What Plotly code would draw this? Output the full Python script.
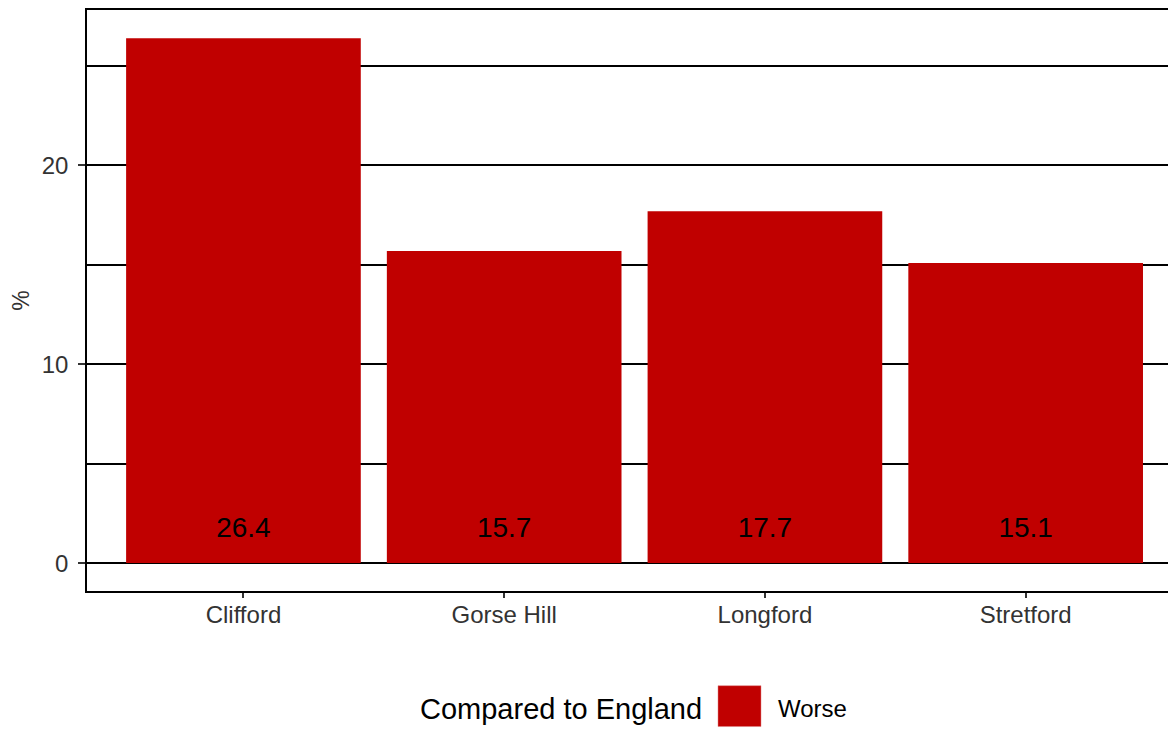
import plotly.graph_objects as go

categories = ["Clifford", "Gorse Hill", "Longford", "Stretford"]
values = [26.4, 15.7, 17.7, 15.1]
labels = ["26.4", "15.7", "17.7", "15.1"]
label_y = [1.65, 1.65, 1.65, 1.65]
y_tickvals = [0, 10, 20]
y_ticktext = ["0", "10", "20"]
legend_title = "Compared to England"
legend_label = "Worse"

BAR = "#C00000"
FONT = "Liberation Sans, Arial, sans-serif"
AXIS_TXT = "#333333"

# the html page body has an 8px margin; figure coordinates are page - 8
OFF = 8
W, H = 1176, 729 - OFF
ML, MR, MT, MB = 87 - OFF, 0, 8 - OFF, 729 - 591
PW = W - ML - MR
PH = H - MT - MB
PANEL_RIGHT_PAGE = OFF + W - MR

def px_x(px):
    return (px - OFF - ML) / PW

def px_y(py):
    return (H - MB - (py - OFF)) / PH

fig = go.Figure()
fig.add_trace(go.Bar(
    x=categories, y=values, width=0.9,
    marker=dict(color=BAR, line=dict(width=0)),
    showlegend=False, hoverinfo="x+y",
))
fig.add_trace(go.Scatter(
    x=categories, y=label_y, mode="text", text=labels,
    textposition="middle center",
    textfont=dict(family=FONT, size=28, color="#000000"),
    showlegend=False, hoverinfo="skip",
))

# legend (drawn manually for the large ggplot-style key)
fig.add_annotation(
    x=px_x(418), y=px_y(709), xref="paper", yref="paper",
    xanchor="left", yanchor="middle", showarrow=False,
    text=legend_title, font=dict(family=FONT, size=29, color="#000000"),
)
fig.add_shape(
    type="rect", xref="paper", yref="paper",
    x0=px_x(718), x1=px_x(761), y0=px_y(727), y1=px_y(686),
    fillcolor=BAR, line=dict(width=0.5, color="#e08080"),
)
fig.add_annotation(
    x=px_x(776), y=px_y(709), xref="paper", yref="paper",
    xanchor="left", yanchor="middle", showarrow=False,
    text=legend_label, font=dict(family=FONT, size=24, color="#000000"),
)

fig.update_layout(
    width=W, height=H,
    margin=dict(l=ML, r=MR, t=MT, b=MB, pad=0),
    paper_bgcolor="white", plot_bgcolor="white",
    font=dict(family=FONT, size=24, color=AXIS_TXT),
    bargap=0.1,
    showlegend=False,
    xaxis=dict(
        range=[-0.6, (PANEL_RIGHT_PAGE - 242.5) / 261.0],
        showline=True, linecolor="black", linewidth=1.5, mirror=True,
        ticks="outside", ticklen=5, tickwidth=1.5, tickcolor="#333333",
        tickfont=dict(family=FONT, size=24, color=AXIS_TXT),
        ticklabelstandoff=-4,
        showgrid=False, zeroline=False,
    ),
    yaxis=dict(
        range=[-1.403, 27.82],
        tickvals=y_tickvals, ticktext=y_ticktext,
        showline=True, linecolor="black", linewidth=1.5, mirror=False,
        ticks="outside", ticklen=7, tickwidth=1.5, tickcolor="#333333",
        tickfont=dict(family=FONT, size=24, color=AXIS_TXT),
        ticklabelstandoff=5,
        showgrid=True, gridcolor="black", gridwidth=1.5,
        minor=dict(dtick=5, tick0=0, showgrid=True, gridcolor="black", gridwidth=1.5, ticks=""),
        zeroline=True, zerolinecolor="black", zerolinewidth=1.5,
        title=dict(text="%", font=dict(family=FONT, size=23, color=AXIS_TXT), standoff=12),
    ),
)

fig.write_html("out.html")
